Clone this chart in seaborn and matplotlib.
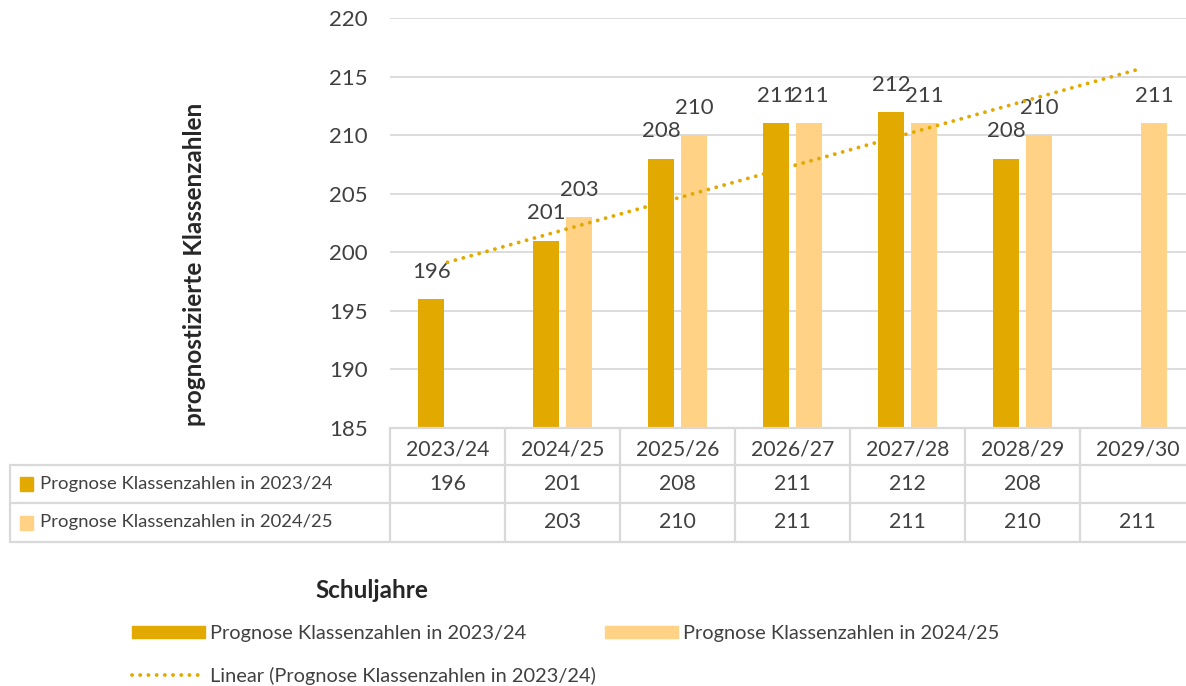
import numpy as np
import pandas as pd
import matplotlib
matplotlib.use("Agg")
import matplotlib.pyplot as plt
import matplotlib.transforms as mtransforms
from matplotlib.patches import Patch, Rectangle
from matplotlib.lines import Line2D
import seaborn as sns

# Daten
schuljahre = ["2023/24", "2024/25", "2025/26", "2026/27", "2027/28", "2028/29", "2029/30"]
prognose_2324 = [196, 201, 208, 211, 212, 208, np.nan]
prognose_2425 = [np.nan, 203, 210, 211, 211, 210, 211]
serien = ["Prognose Klassenzahlen in 2023/24", "Prognose Klassenzahlen in 2024/25"]
trend_label = "Linear (Prognose Klassenzahlen in 2023/24)"

DUNKEL = "#E2AA00"
HELL = "#FFD286"
GRID = "#D9D9D9"
TXT = "#404040"
DOTS = (0, (0.01, 2.1))

df = pd.DataFrame({
    "Schuljahr": schuljahre * 2,
    "Wert": prognose_2324 + prognose_2425,
    "Serie": [serien[0]] * len(schuljahre) + [serien[1]] * len(schuljahre),
})

sns.set_style("white")
plt.rcParams["font.family"] = ["Lato", "DejaVu Sans"]

W, H = 1186, 686
fig = plt.figure(figsize=(W / 100, H / 100), dpi=100)
ax = fig.add_axes([390 / W, 1 - 428 / H, (1195 - 390) / W, (428 - 18) / H])

sns.barplot(data=df, x="Schuljahr", y="Wert", hue="Serie", order=schuljahre,
            hue_order=serien, palette=[DUNKEL, HELL], width=0.57, gap=0.2,
            dodge=True, legend=False, saturation=1, linewidth=0, ax=ax)

ax.set_ylim(185, 220)
ax.set_xlim(-0.5, len(schuljahre) - 0.5)
ax.set_yticks(np.arange(185, 221, 5))
ax.yaxis.grid(True, color=GRID, linewidth=1.3)
ax.set_axisbelow(True)
for s in ax.spines.values():
    s.set_visible(False)
ax.tick_params(axis="y", length=0, pad=16, labelsize=16, labelcolor=TXT)
ax.tick_params(axis="x", length=0, pad=8, labelsize=15.3, labelcolor=TXT)
ax.set_xlabel("")
ax.set_ylabel("")

# Datenbeschriftungen
for cont in ax.containers:
    for bar in cont:
        h = bar.get_height()
        if np.isnan(h):
            continue
        ax.annotate(f"{h:.0f}", (bar.get_x() + bar.get_width() / 2, h),
                    xytext=(0, 19.5), textcoords="offset points",
                    ha="center", va="center", fontsize=16, color=TXT)

# Lineare Trendlinie (Serie 2023/24)
x_idx = np.arange(len(schuljahre))
y1 = np.array(prognose_2324)
ok = ~np.isnan(y1)
m, b = np.polyfit(x_idx[ok], y1[ok], 1)
ax.plot(x_idx, m * x_idx + b, color=DUNKEL, linestyle=DOTS,
        linewidth=2.8, dash_capstyle="round", zorder=3)

# Datentabelle unter dem Diagramm
def px2fig(y):
    return 1 - y / H

trans = mtransforms.blended_transform_factory(ax.transData, fig.transFigure)
y_top, y_r1, y_r2, y_bot = 428, 465, 503, 542
tkw = dict(color=GRID, linewidth=1.6, clip_on=False)
fig.add_artist(Line2D([390 / W, 1], [px2fig(y_top)] * 2, transform=fig.transFigure, **tkw))
for yy in (y_r1, y_r2, y_bot):
    fig.add_artist(Line2D([10 / W, 1], [px2fig(yy)] * 2, transform=fig.transFigure, **tkw))
fig.add_artist(Line2D([10 / W] * 2, [px2fig(y_r1), px2fig(y_bot)], transform=fig.transFigure, **tkw))
for i in range(len(schuljahre) + 1):
    fig.add_artist(Line2D([i - 0.5] * 2, [px2fig(y_top), px2fig(y_bot)], transform=trans, **tkw))

for row, (werte, farbe, name) in enumerate(zip([prognose_2324, prognose_2425], [DUNKEL, HELL], serien)):
    yc = px2fig((y_r1 + y_r2) / 2 if row == 0 else (y_r2 + y_bot) / 2)
    fig.add_artist(Rectangle((20 / W, yc - 7 / H), 13 / W, 14 / H,
                             transform=fig.transFigure, color=farbe))
    fig.text(40 / W, yc, name, ha="left", va="center", fontsize=13.3, color=TXT)
    for i, v in enumerate(werte):
        if not np.isnan(v):
            fig.text(i, yc, f"{v:.0f}", transform=trans, ha="center", va="center",
                     fontsize=15.3, color=TXT)

# Achsentitel
fig.text(195 / W, px2fig(264), "prognostizierte Klassenzahlen", rotation=90,
         ha="center", va="center", fontsize=17.5, fontweight="bold", color="#262626")
fig.text(372 / W, px2fig(590), "Schuljahre", ha="center", va="center",
         fontsize=17.5, fontweight="bold", color="#262626")

# Legende
handles = [Patch(color=DUNKEL, label=serien[0]),
           Line2D([], [], color=DUNKEL, linestyle=DOTS, linewidth=2.8,
                  dash_capstyle="round", label=trend_label),
           Patch(color=HELL, label=serien[1])]
fig.legend(handles=handles, loc="upper left", bbox_to_anchor=(132 / W, px2fig(625)),
           ncol=2, frameon=False, fontsize=14.4, handlelength=3.65, handleheight=0.6,
           handletextpad=0.25, labelspacing=1.25, columnspacing=0.45,
           borderpad=0, borderaxespad=0, labelcolor=TXT)

fig.savefig("out.png", dpi=100)
